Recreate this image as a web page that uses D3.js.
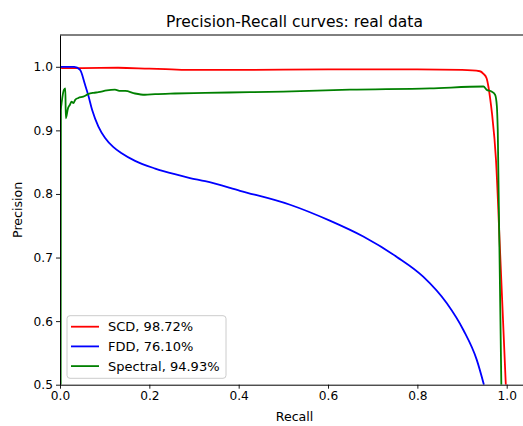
<!DOCTYPE html>
<html>
<head>
<meta charset="utf-8">
<script src="https://cdn.jsdelivr.net/npm/d3@7"></script>
<style>
  html, body { margin: 0; padding: 0; background: #fff; }
  svg { display: block; font-family: "DejaVu Sans", sans-serif; }
</style>
</head>
<body>
<svg id="chart" width="523" height="426"></svg>
<script>
// ---- data ----
const scdRecall    = [0, 0.005, 0.05, 0.13, 0.2, 0.25, 0.28, 0.4, 0.6, 0.8, 0.9, 0.94, 0.948, 0.955, 0.959, 0.963, 0.967, 0.976, 0.985, 0.998];
const scdPrecision = [1.0, 0.998, 0.998, 0.9985, 0.997, 0.996, 0.995, 0.995, 0.996, 0.996, 0.995, 0.993, 0.989, 0.982, 0.969, 0.950, 0.927, 0.854, 0.712, 0.5];

const fddRecall    = [0, 0.032, 0.045, 0.056, 0.063, 0.072, 0.086, 0.101, 0.119, 0.138, 0.168, 0.213, 0.257, 0.291, 0.325, 0.403, 0.515, 0.604, 0.679, 0.754, 0.813, 0.866, 0.903, 0.933, 0.949];
const fddPrecision = [1.0, 1.0, 0.995, 0.972, 0.956, 0.932, 0.906, 0.888, 0.874, 0.864, 0.852, 0.840, 0.831, 0.825, 0.820, 0.805, 0.783, 0.758, 0.733, 0.701, 0.670, 0.628, 0.586, 0.539, 0.50];

const specRecall    = [0.0015, 0.002, 0.004, 0.009, 0.012, 0.013, 0.018, 0.022, 0.026, 0.030, 0.034, 0.041, 0.052, 0.063, 0.075, 0.086, 0.105, 0.123, 0.135, 0.146, 0.168, 0.19, 0.213, 0.257, 0.325, 0.425, 0.5, 0.649, 0.828, 0.948, 0.955, 0.966, 0.974, 0.978, 0.980, 0.988];
const specPrecision = [0.5, 0.932, 0.945, 0.964, 0.966, 0.919, 0.935, 0.940, 0.945, 0.943, 0.948, 0.951, 0.953, 0.957, 0.959, 0.960, 0.963, 0.964, 0.962, 0.962, 0.958, 0.956, 0.957, 0.958, 0.959, 0.960, 0.961, 0.964, 0.966, 0.969, 0.964, 0.961, 0.956, 0.938, 0.90, 0.5];

const seriesNames  = ["SCD, 98.72%", "FDD, 76.10%", "Spectral, 94.93%"];
const seriesColors = ["#ff0000", "#0000ff", "#008000"];
const xTicks = [0.0, 0.2, 0.4, 0.6, 0.8, 1.0];
const yTicks = [0.5, 0.6, 0.7, 0.8, 0.9, 1.0];
const titleText = "Precision-Recall curves: real data";
const xLabel = "Recall";
const yLabel = "Precision";

(function () {
// ---- layout ----
const svg = d3.select("#chart");
const padLeft = 60, padTop = 35, padBottom = 384.7;
const x = d3.scaleLinear().domain([0, 1.05]).range([padLeft, padLeft + 1.05 * 446.7]);
const y = d3.scaleLinear().domain([0.5, 1.05]).range([padBottom, padTop]);

svg.append("rect").attr("width", 523).attr("height", 426).attr("fill", "#fff");

svg.append("defs").append("clipPath").attr("id", "clip")
  .append("rect").attr("x", x(0)).attr("y", y(1.05))
  .attr("width", x(1.05) - x(0)).attr("height", y(0.5) - y(1.05));

const series = [
  { r: scdRecall,  p: scdPrecision },
  { r: fddRecall,  p: fddPrecision },
  { r: specRecall, p: specPrecision }
];

const line = d3.line().x(d => x(d[0])).y(d => y(d[1])).curve(d3.curveMonotoneX);

const g = svg.append("g").attr("clip-path", "url(#clip)");
series.forEach((s, i) => {
  const pts = s.r.map((rv, k) => [rv, s.p[k]]);
  g.append("path").datum(pts)
    .attr("d", line)
    .attr("fill", "none")
    .attr("stroke", seriesColors[i])
    .attr("stroke-width", 1.8)
    .attr("stroke-linejoin", "round")
    .attr("stroke-linecap", "butt");
});

// ---- axes ----
const xAxis = d3.axisBottom(x).tickValues(xTicks).tickFormat(d3.format(".1f")).tickSizeInner(4).tickSizeOuter(0).tickPadding(3);
const yAxis = d3.axisLeft(y).tickValues(yTicks).tickFormat(d3.format(".1f")).tickSizeInner(4).tickSizeOuter(0).tickPadding(3);

const gx = svg.append("g").attr("transform", `translate(0,${padBottom})`).call(xAxis);
const gy = svg.append("g").attr("transform", `translate(${padLeft},0)`).call(yAxis);
[gx, gy].forEach(ax => {
  ax.select(".domain").attr("stroke", "#000").attr("stroke-width", 1);
  ax.selectAll(".tick line").attr("stroke", "#000").attr("stroke-width", 0.9);
  ax.selectAll(".tick text").attr("font-size", 12.2).attr("fill", "#000").attr("font-family", "DejaVu Sans");
});

svg.append("line").attr("x1", x(0)).attr("x2", x(1.05)).attr("y1", y(1.05)).attr("y2", y(1.05))
  .attr("stroke", "#000").attr("stroke-width", 1);
svg.append("line").attr("x1", x(1.05)).attr("x2", x(1.05)).attr("y1", y(1.05)).attr("y2", y(0.5))
  .attr("stroke", "#000").attr("stroke-width", 1);

// ---- labels ----
svg.append("text").attr("x", (x(0) + x(1.05)) / 2).attr("y", 27)
  .attr("text-anchor", "middle").attr("font-size", 15.5).text(titleText);
svg.append("text").attr("x", (x(0) + x(1.05)) / 2).attr("y", 421)
  .attr("text-anchor", "middle").attr("font-size", 12.6).text(xLabel);
svg.append("text").attr("transform", `translate(22,${(padTop + padBottom) / 2}) rotate(-90)`)
  .attr("text-anchor", "middle").attr("font-size", 12.6).text(yLabel);

// ---- legend ----
const lg = svg.append("g");
lg.append("rect").attr("x", 67).attr("y", 315.7).attr("width", 159).attr("height", 62.6)
  .attr("rx", 3).attr("fill", "#fff").attr("fill-opacity", 0.8)
  .attr("stroke", "#cccccc").attr("stroke-width", 1);
seriesNames.forEach((name, i) => {
  const yy = 326.7 + i * 19.7;
  lg.append("line").attr("x1", 71).attr("x2", 99).attr("y1", yy).attr("y2", yy)
    .attr("stroke", seriesColors[i]).attr("stroke-width", 1.8);
  lg.append("text").attr("x", 108).attr("y", yy).attr("dy", "0.36em")
    .attr("font-size", 13).text(name);
});
})();
</script>
</body>
</html>
